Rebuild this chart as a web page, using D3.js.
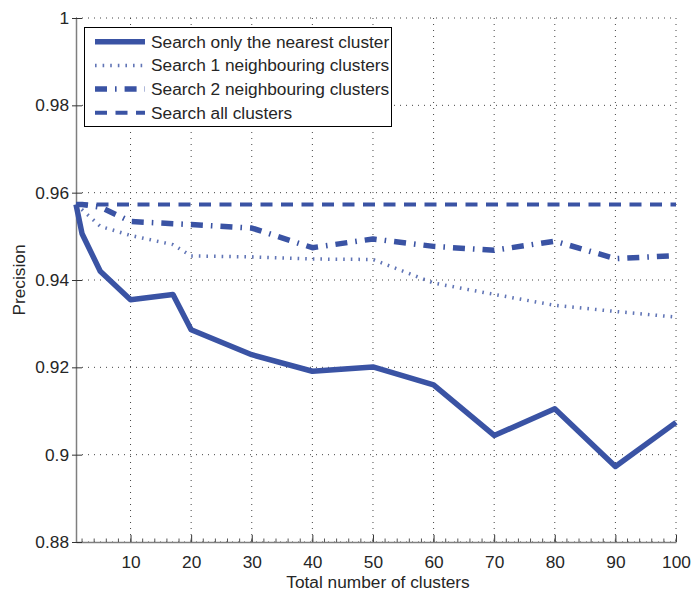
<!DOCTYPE html>
<html>
<head>
<meta charset="utf-8">
<script src="https://cdn.jsdelivr.net/npm/d3@7"></script>
<style>
  body { margin: 0; background: #fff; }
  text { font-family: "Liberation Sans", Arial, sans-serif; fill: #262626; }
</style>
</head>
<body>
<script>
// values
var clusters = [1, 2, 5, 10, 17, 20, 30, 40, 50, 60, 70, 80, 90, 100];
var nearestOnly = [0.9573, 0.9506, 0.9420, 0.9355, 0.9367, 0.9286, 0.9229, 0.9191, 0.9201, 0.9160, 0.9044, 0.9105, 0.8973, 0.9074];
var oneNeighbour = [0.9573, 0.9561, 0.9523, 0.9502, 0.9481, 0.9455, 0.9453, 0.9448, 0.9447, 0.9393, 0.9367, 0.9342, 0.9328, 0.9315];
var twoNeighbour = [0.9573, 0.9573, 0.9567, 0.9534, 0.9529, 0.9527, 0.9519, 0.9474, 0.9494, 0.9477, 0.9468, 0.9489, 0.9449, 0.9456];
var allClusters = [0.9573, 0.9573, 0.9573, 0.9573, 0.9573, 0.9573, 0.9573, 0.9573, 0.9573, 0.9573, 0.9573, 0.9573, 0.9573, 0.9573];
var seriesNames = ["Search only the nearest cluster", "Search 1 neighbouring clusters",
                   "Search 2 neighbouring clusters", "Search all clusters"];
var xTicks = [10, 20, 30, 40, 50, 60, 70, 80, 90, 100];
var yTicks = [0.88, 0.9, 0.92, 0.94, 0.96, 0.98, 1];

var width = 694, height = 596;
var color = "#3a53a4";

var svg = d3.select("body").append("svg")
    .attr("width", width)
    .attr("height", height);

var x = d3.scaleLinear().domain([1, 100]).range([76, 676]);
var y = d3.scaleLinear().domain([0.88, 1]).range([542, 18]);

// dotted grid
svg.append("g").selectAll("line")
    .data(xTicks)
    .enter().append("line")
    .attr("x1", function(d) { return x(d); })
    .attr("x2", function(d) { return x(d); })
    .attr("y1", y(1))
    .attr("y2", y(0.88))
    .style("stroke", "#444")
    .style("stroke-width", 1)
    .style("stroke-dasharray", "1,5");

svg.append("g").selectAll("line")
    .data(yTicks)
    .enter().append("line")
    .attr("x1", x(1))
    .attr("x2", x(100))
    .attr("y1", function(d) { return y(d); })
    .attr("y2", function(d) { return y(d); })
    .style("stroke", "#444")
    .style("stroke-width", 1)
    .style("stroke-dasharray", "1,5");

// axes
var xAxis = svg.append("g")
    .attr("transform", "translate(0," + y(0.88) + ")")
    .call(d3.axisBottom(x).tickValues(xTicks).tickSize(-7).tickPadding(14).tickSizeOuter(0));
xAxis.selectAll(".tick text").style("font-size", "17.3px");

// minor ticks every 2
xAxis.append("g").selectAll("line")
    .data(d3.range(2, 101, 2))
    .enter().append("line")
    .attr("x1", function(d) { return x(d); })
    .attr("x2", function(d) { return x(d); })
    .attr("y1", 0)
    .attr("y2", -3.5)
    .style("stroke", "#555");

var yAxis = svg.append("g")
    .attr("transform", "translate(" + x(1) + ",0)")
    .call(d3.axisLeft(y).tickValues(yTicks).tickSize(4).tickPadding(3).tickSizeOuter(0)
        .tickFormat(function(d) { return d3.format("")(+d.toFixed(2)); }));
yAxis.selectAll(".tick text").style("font-size", "17.3px");
yAxis.selectAll(".tick").append("line")
    .attr("x2", 6)
    .style("stroke", "#333");

svg.selectAll(".domain").style("stroke", "#7f7f7f").style("stroke-width", 1.5);
svg.selectAll(".tick line").style("stroke", "#333");

// axis titles
svg.append("text")
    .attr("x", 378)
    .attr("y", 588)
    .attr("text-anchor", "middle")
    .style("font-size", "17.3px")
    .text("Total number of clusters");

svg.append("text")
    .attr("transform", "translate(25,280) rotate(-90)")
    .attr("text-anchor", "middle")
    .style("font-size", "17.3px")
    .text("Precision");

// series
var styles = [
  { values: nearestOnly, width: 5.5, dash: null, opacity: 1 },
  { values: oneNeighbour, width: 3.5, dash: "1.6,6", opacity: 0.8 },
  { values: twoNeighbour, width: 5.5, dash: "12,8,1.6,8", opacity: 1 },
  { values: allClusters, width: 4, dash: "12,8.5", opacity: 1 }
];

var line = d3.line()
    .x(function(d) { return x(d[0]); })
    .y(function(d) { return y(d[1]); });

var drawOrder = [3, 1, 2, 0];
drawOrder.forEach(function(i) {
  var s = styles[i];
  svg.append("path")
      .datum(clusters.map(function(c, k) { return [c, s.values[k]]; }))
      .attr("d", line)
      .style("fill", "none")
      .style("stroke", color)
      .style("stroke-width", s.width)
      .style("stroke-opacity", s.opacity)
      .style("stroke-linejoin", "round")
      .style("stroke-dasharray", s.dash);
});

// legend
var legend = svg.append("g");
legend.append("rect")
    .attr("x", 84.5)
    .attr("y", 27.5)
    .attr("width", 307)
    .attr("height", 99)
    .style("fill", "#fff")
    .style("stroke", "#000")
    .style("stroke-width", 1);

var rows = legend.selectAll(".row")
    .data(styles)
    .enter().append("g")
    .attr("class", "row")
    .attr("transform", function(d, i) { return "translate(0," + (41.7 + i * 23.7) + ")"; });

rows.append("line")
    .attr("x1", 95)
    .attr("x2", 145)
    .style("stroke", color)
    .style("stroke-width", function(d) { return d.width; })
    .style("stroke-opacity", function(d) { return d.opacity; })
    .style("stroke-dasharray", function(d) { return d.dash; });

rows.append("text")
    .attr("x", 151)
    .attr("dy", "0.35em")
    .style("font-size", "17.3px")
    .text(function(d, i) { return seriesNames[i]; });
</script>
</body>
</html>
